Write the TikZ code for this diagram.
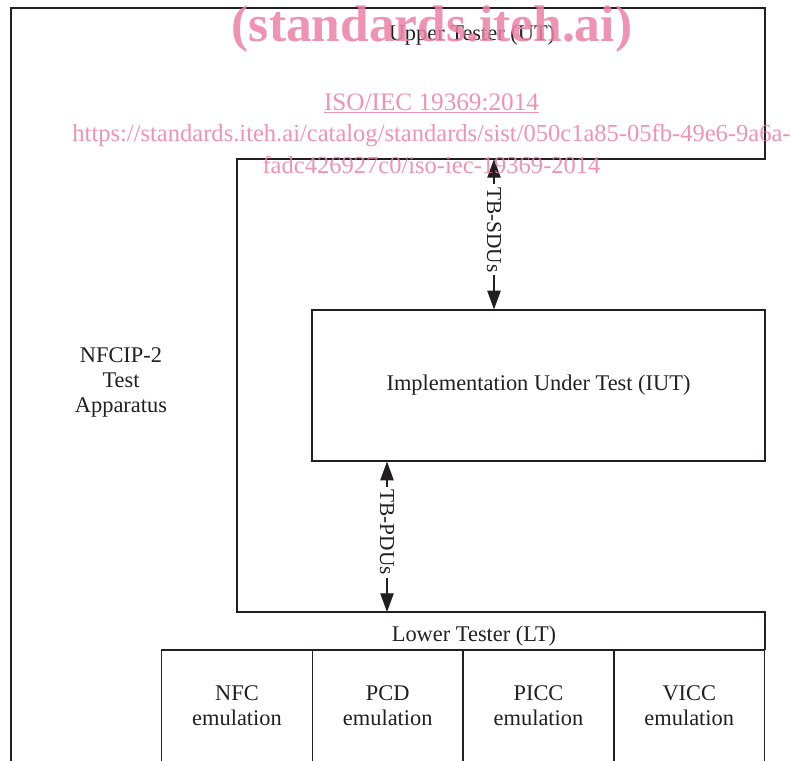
\documentclass[tikz,border=0pt]{standalone}
\usepackage{fontspec}
\setmainfont{Liberation Serif}
\usetikzlibrary{arrows.meta}
\definecolor{wm}{RGB}{236,130,165}
\definecolor{ink}{RGB}{35,31,32}
\begin{document}
\begin{tikzpicture}[x=0.75pt,y=-0.75pt,
  frame/.style={draw=ink, line width=0.9pt},
  lbl/.style={text=ink, font=\fontsize{16.8}{18.75}\selectfont, inner sep=0pt},
  emu/.style={frame, rectangle, text=ink, font=\fontsize{16.8}{18.75}\selectfont, align=center, minimum width=113pt, minimum height=84pt, inner sep=0pt},
  iutbox/.style={frame, rectangle, text=ink, font=\fontsize{16.8}{18.75}\selectfont, minimum width=339.75pt, minimum height=113.25pt, inner sep=0pt},
  dbl/.style={{Triangle[length=14pt,width=10pt]}-{Triangle[length=14pt,width=10pt]}, draw=ink, line width=0.9pt},
  onarrow/.style={fill=white, rotate=-90, text=ink, font=\fontsize{16}{17}\selectfont, inner sep=2pt, pos=0.47},
  wmt/.style={text=wm, text opacity=0.85, inner sep=0pt, anchor=base}]
\fill[white] (0,0) rectangle (791,760);
\useasboundingbox (0,0) rectangle (791,760);
\clip (0,0) rectangle (791,760);
% frame of the test apparatus, upper and lower tester
\draw[frame] (11,765) -- (11,8) -- (765,8) -- (765,159) -- (237,159) -- (237,612) -- (765,612) -- (765,650);
% nodes
\node[iutbox] (iut) at (538.5,385.5) {Implementation Under Test (IUT)};
\node[emu] (nfc)  at (237,706) {NFC\\emulation};
\node[emu] (pcd)  at (387.75,706) {PCD\\emulation};
\node[emu] (picc) at (538.5,706) {PICC\\emulation};
\node[emu] (vicc) at (689.25,706) {VICC\\emulation};
\node[lbl, anchor=base] (ut) at (472,40) {Upper Tester (UT)};
\node[lbl, anchor=base] (lt) at (474,641) {Lower Tester (LT)};
\node[lbl, align=center] (app) at (121,382) {NFCIP-2\\Test\\Apparatus};
% connectors
\coordinate (sdutop) at (494,159);
\coordinate (pdubot) at (387,612);
\draw[dbl] (sdutop) -- node[onarrow] {TB-SDUs} (sdutop |- iut.north);
\draw[dbl] (pdubot |- iut.south) -- node[onarrow] {TB-PDUs} (pdubot);
% watermark
\node[wmt, font=\bfseries\fontsize{38.6}{40}\selectfont] (wm1) at (432,41) {(standards.iteh.ai)};
\node[wmt, font=\fontsize{18.9}{20}\selectfont] (wm2) at (431.5,110) {\underline{ISO/IEC 19369:2014}};
\node[wmt, font=\fontsize{18.4}{20}\selectfont] (wm3) at (431.5,141) {https://standards.iteh.ai/catalog/standards/sist/050c1a85-05fb-49e6-9a6a-};
\node[wmt, font=\fontsize{18.4}{20}\selectfont] (wm4) at (431.5,173) {fadc426927c0/iso-iec-19369-2014};
\end{tikzpicture}
\end{document}
